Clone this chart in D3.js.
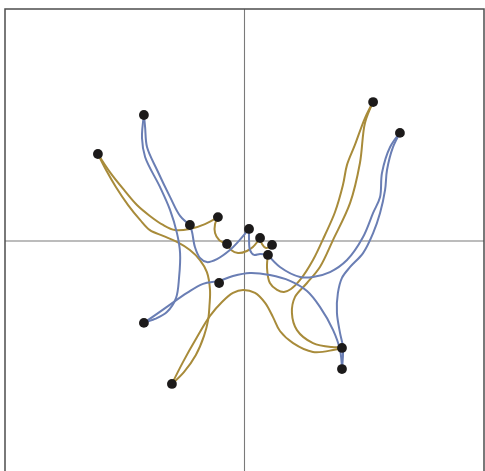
<!DOCTYPE html>
<html><head><meta charset="utf-8">
<script src="https://cdn.jsdelivr.net/npm/d3@7"></script>
<style>html,body{margin:0;padding:0;background:#fff;}svg{display:block;}</style>
</head><body>
<svg id="chart" width="485" height="471"></svg>
<script>
// Node positions (data units, axes cross at 0,0)
const nodeX = [-42.0,-61.2,-22.8,-11.1,-7.3,1.9,6.5,11.5,9.8,-10.6,-42.0,-30.3,53.7,64.9,40.7,40.7];
const nodeY = [54.3,37.5,6.9,10.3,-1.3,5.2,1.3,-1.7,-6.0,-18.1,-35.3,-61.6,59.9,46.6,-46.1,-55.2];

// Gold edges (waypoints)
const gold1 = [[-61.2,37.5],[-56.2,29.7],[-50.3,22.0],[-44.9,15.5],[-39.5,10.8],[-34.0,6.9],[-29.0,4.7],[-22.8,5.2],[-16.5,7.3],[-11.1,10.3]];
const gold2 = [[-61.2,37.5],[-57.8,30.6],[-53.7,23.3],[-48.6,15.5],[-43.6,9.1],[-39.5,4.7],[-34.0,2.2],[-28.2,-0.4],[-22.8,-3.9],[-18.6,-8.2],[-15.7,-13.4],[-14.4,-21.1],[-14.6,-27.5],[-15.2,-34.1],[-16.9,-40.9],[-20.3,-49.1],[-25.3,-56.5],[-30.3,-61.6]];
const gold3 = [[-30.3,-61.6],[-25.7,-52.2],[-19.8,-41.4],[-14.4,-32.3],[-9.4,-26.3],[-4.8,-22.4],[-0.6,-21.1],[4.4,-22.4],[8.6,-26.7],[11.9,-32.8],[14.8,-38.8],[20.3,-44.0],[28.6,-47.8],[37.0,-47.0],[40.7,-46.1]];
const gold4 = [[40.7,-45.7],[36.5,-45.7],[28.6,-44.0],[21.9,-38.4],[19.8,-31.0],[21.1,-24.1],[26.1,-18.1],[31.5,-11.2],[36.95,0.4],[44.1,16.4],[48.2,33.6],[50.3,50.9],[53.7,59.9]];
const gold5 = [[9.8,-6.0],[9.4,-11.6],[10.6,-18.1],[13.6,-21.1],[16.5,-22.0],[19.4,-20.7],[23.2,-16.8],[28.6,-8.2],[33.6,2.6],[37.8,12.5],[41.1,24.1],[42.8,32.8],[46.1,41.4],[50.3,53.0],[53.7,59.9]];
const gold6 = [[-11.1,10.3],[-12.3,7.3],[-12.3,3.4],[-10.6,0.4],[-7.3,-1.3]];
const gold7 = [[-7.3,-1.3],[-5.6,-3.9],[-2.7,-5.2],[1.0,-4.3],[3.5,-2.6],[6.5,1.3]];
const gold8 = [[6.5,1.3],[7.3,-1.3],[9.0,-3.0],[11.5,-1.7]];

// Blue edges (waypoints)
const blue1 = [[-42.0,54.3],[-42.8,44.4],[-41.5,36.2],[-35.3,23.3],[-31.1,13.4],[-28.2,3.4],[-26.9,-5.2],[-27.3,-15.5],[-28.6,-24.6],[-32.4,-30.6],[-37.4,-33.6],[-42.0,-35.3]];
const blue2 = [[-42.0,54.3],[-41.5,49.1],[-40.7,40.5],[-36.5,30.6],[-31.1,19.0],[-26.9,10.8],[-22.8,6.9]];
const blue3 = [[-22.8,6.9],[-21.9,3.9],[-20.7,-2.6],[-18.6,-7.3],[-15.7,-9.1],[-11.5,-7.8],[-6.1,-3.9],[-2.7,-0.4],[1.9,5.2]];
const blue4 = [[1.9,5.2],[1.9,0.4],[2.3,-3.9],[4.0,-6.0],[6.5,-5.6],[9.8,-6.0]];
const blue5 = [[9.8,-6.0],[14.8,-11.2],[23.2,-15.5],[28.6,-15.5],[35.7,-13.4],[42.8,-8.2],[49.5,1.7],[53.7,12.1],[56.6,19.0],[57.4,29.3],[60.8,40.5],[64.9,46.6]];
const blue6 = [[64.9,46.6],[62.0,40.5],[59.5,30.6],[58.7,22.0],[56.6,12.1],[53.7,3.4],[49.5,-5.2],[44.1,-11.2],[40.7,-15.9],[39.0,-22.4],[38.6,-31.0],[39.9,-39.7],[41.1,-45.7],[40.7,-55.2]];
const blue7 = [[-42.0,-35.3],[-32.4,-28.4],[-24.0,-22.4],[-17.3,-18.5],[-10.6,-17.2],[-4.8,-15.1],[2.3,-13.8],[10.6,-14.7],[19.0,-17.2],[26.1,-21.6],[31.5,-28.4],[37.0,-38.4],[39.9,-47.0],[40.7,-55.2]];

const goldEdges = [gold1,gold2,gold3,gold4,gold5,gold6,gold7,gold8];
const blueEdges = [blue1,blue2,blue3,blue4,blue5,blue6,blue7];

const xDomain = [-100, 100];
const yDomain = [-100, 100];

const svg = d3.select('#chart');
const x = d3.scaleLinear().domain(xDomain).range([5, 484]);
const y = d3.scaleLinear().domain(yDomain).range([473, 9]);

// axes through origin
svg.append('line').attr('x1', x(xDomain[0])).attr('x2', x(xDomain[1])).attr('y1', y(0)).attr('y2', y(0))
  .attr('stroke', '#7a7a7a').attr('stroke-width', 1.1);
svg.append('line').attr('x1', x(0)).attr('x2', x(0)).attr('y1', y(yDomain[0])).attr('y2', y(yDomain[1]))
  .attr('stroke', '#7a7a7a').attr('stroke-width', 1.1);

const line = d3.line().x(d => x(d[0])).y(d => y(d[1])).curve(d3.curveCatmullRom.alpha(0.5));

svg.append('g').selectAll('path').data(goldEdges).join('path')
  .attr('d', line).attr('fill', 'none').attr('stroke', '#a88b3a').attr('stroke-width', 2)
  .attr('stroke-linecap', 'round');
svg.append('g').selectAll('path').data(blueEdges).join('path')
  .attr('d', line).attr('fill', 'none').attr('stroke', '#6a7eb4').attr('stroke-width', 2)
  .attr('stroke-linecap', 'round');

svg.append('g').selectAll('circle').data(nodeX.map((v, i) => [v, nodeY[i]])).join('circle')
  .attr('cx', d => x(d[0])).attr('cy', d => y(d[1])).attr('r', 4.9).attr('fill', '#1c1a1a');

// frame
svg.append('rect').attr('x', x(xDomain[0])).attr('y', y(yDomain[1]))
  .attr('width', x(xDomain[1]) - x(xDomain[0])).attr('height', y(yDomain[0]) - y(yDomain[1]))
  .attr('fill', 'none').attr('stroke', '#4d4d4d').attr('stroke-width', 1.5);
</script>
</body></html>
